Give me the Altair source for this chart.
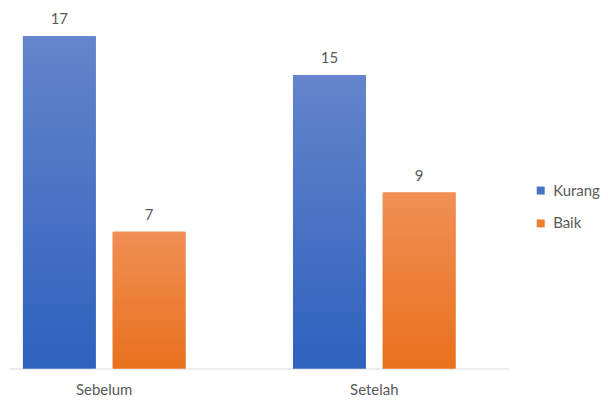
import altair as alt
import pandas as pd

categories = ["Sebelum", "Sebelum", "Setelah", "Setelah"]
series = ["Kurang", "Baik", "Kurang", "Baik"]
values = [17, 7, 15, 9]

df = pd.DataFrame({"kategori": categories, "seri": series, "nilai": values})

FONT = "Lato"
TXT = "#595959"

x_enc = alt.X("kategori:N", title=None, sort=["Sebelum", "Setelah"],
              scale=alt.Scale(paddingInner=0.398, paddingOuter=0.1235, align=0.209),
              axis=alt.Axis(labelAngle=0, ticks=False, domainColor="#d9d9d9",
                            labelFontSize=15, labelColor=TXT, labelFont=FONT,
                            labelPadding=14, grid=False))
xo_enc = alt.XOffset("seri:N", sort=["Kurang", "Baik"],
                     scale=alt.Scale(domain=["Kurang", "Baik"], paddingInner=0.189, paddingOuter=0))
y_enc = alt.Y("nilai:Q", scale=alt.Scale(domain=[0, 18], nice=False), axis=None)

base = alt.Chart(df).encode(x=x_enc, xOffset=xo_enc, y=y_enc)

legend_bars = base.mark_bar().encode(
    color=alt.Color("seri:N", sort=["Kurang", "Baik"],
                    scale=alt.Scale(domain=["Kurang", "Baik"], range=["#4472c4", "#ed7d31"]),
                    legend=alt.Legend(title=None, orient="none", legendX=526, legendY=167,
                                      symbolType="square", symbolSize=64, symbolStrokeWidth=0,
                                      labelFontSize=15, labelColor=TXT, labelFont=FONT,
                                      rowPadding=17, labelOffset=5, padding=0))
)

def grad(top, bottom):
    return alt.Gradient(gradient="linear",
                        stops=[alt.GradientStop(color=top, offset=0),
                               alt.GradientStop(color=bottom, offset=1)],
                        x1=0, x2=0, y1=0, y2=1)

kurang = base.mark_bar(fill=grad("#6385cb", "#2f61be")).transform_filter(alt.datum.seri == "Kurang")
baik = base.mark_bar(fill=grad("#f18f55", "#e8711d")).transform_filter(alt.datum.seri == "Baik")

labels = base.mark_text(baseline="bottom", dy=-9, fontSize=15, color=TXT, font=FONT).encode(
    text=alt.Text("nilai:Q"))

chart = alt.layer(legend_bars, kurang, baik, labels).properties(
    width=501, height=353,
    padding={"left": 1, "top": 3, "right": 0, "bottom": 0}
).configure_view(stroke=None)

chart.save("out.html", embed_options={"renderer": "svg", "actions": False})
